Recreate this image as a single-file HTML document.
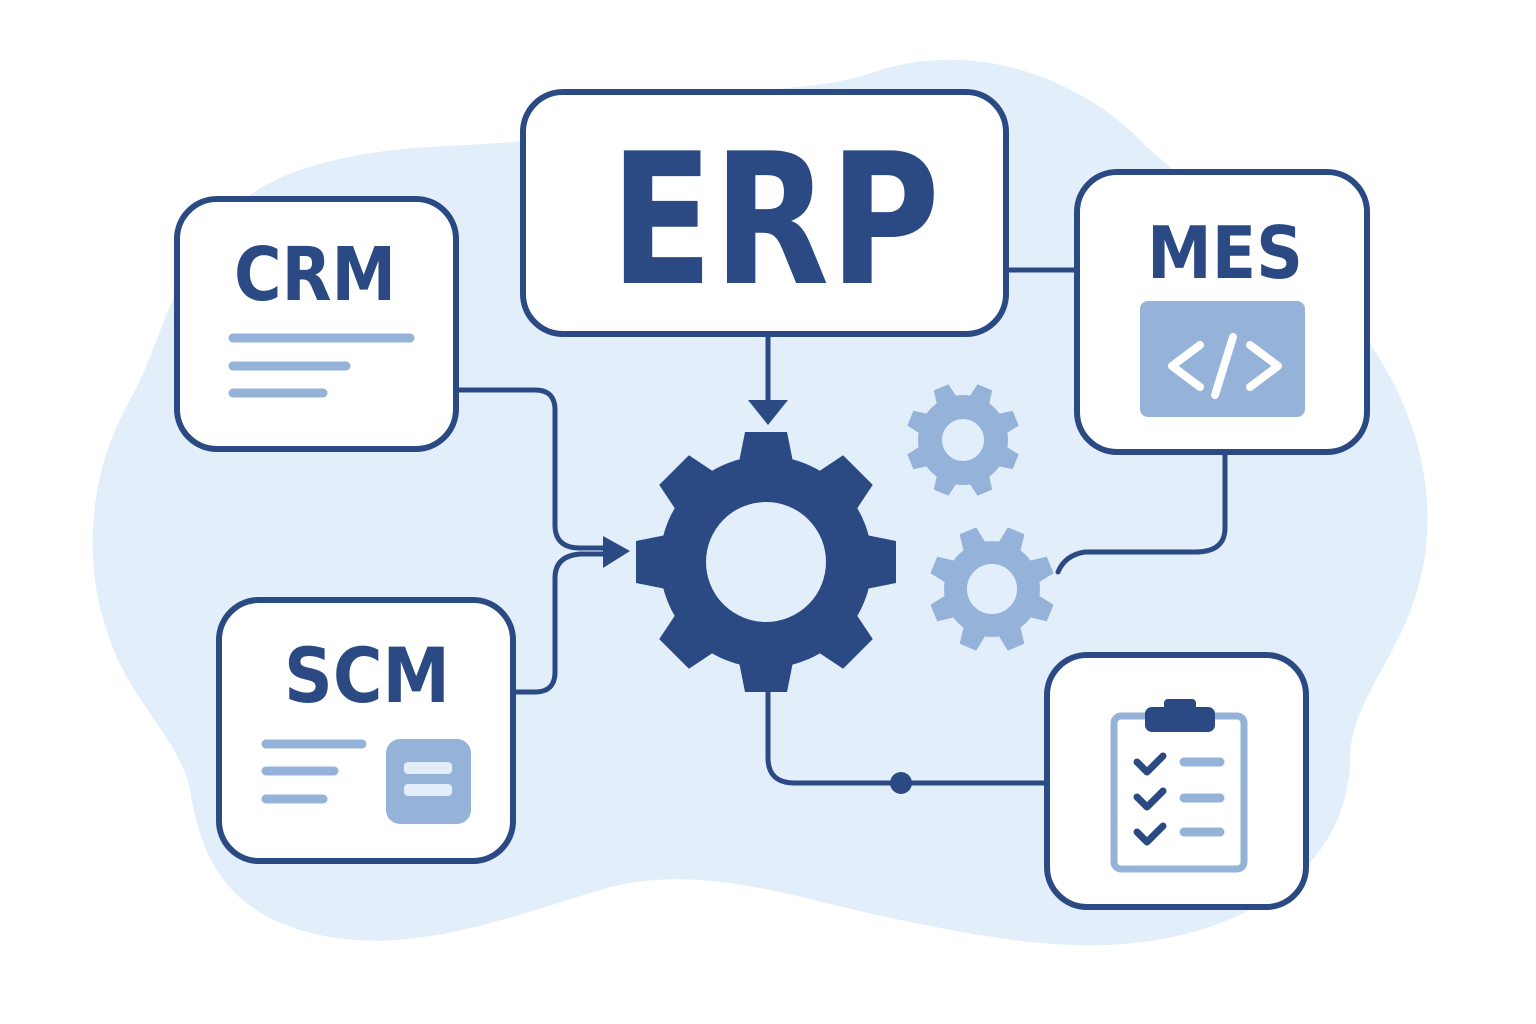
<!DOCTYPE html>
<html><head><meta charset="utf-8"><style>
html,body{margin:0;padding:0;background:#fff;width:1536px;height:1024px;overflow:hidden}
text{font-family:"DejaVu Sans","Liberation Sans",sans-serif;font-weight:bold;fill:#2b4a84}
</style></head><body>
<svg width="1536" height="1024" viewBox="0 0 1536 1024" xmlns="http://www.w3.org/2000/svg">
<defs>
<polygon id="tb" points="-28,-95 28,-95 21,-130 -21,-130" fill="#2b4a84"/>
<polygon id="t1" points="-11,-40 11,-40 8,-57 -8,-57" fill="#95b3d9"/>
<polygon id="t2" points="-12,-44 12,-44 9,-63 -9,-63" fill="#95b3d9"/>
</defs>
<path d="M300 170 C420 130 520 160 600 120 C700 80 800 100 880 70 C980 40 1080 80 1140 140 C1200 200 1300 250 1360 330 C1420 410 1440 500 1420 580 C1400 660 1350 700 1350 760 C1350 830 1300 900 1200 930 C1100 960 1000 940 900 920 C800 900 700 860 600 890 C500 920 400 960 300 930 C220 905 200 850 190 790 C180 740 130 700 110 640 C80 560 90 470 130 400 C170 330 180 210 300 170 Z" fill="#e3eefb"/>
<g fill="none" stroke="#2b4a84" stroke-width="5" stroke-linecap="round" stroke-linejoin="round">
<path d="M457 390 H535 Q555 390 555 410 V525 Q555 548 580 548 H606"/>
<path d="M514 692 H535 Q555 692 555 672 V578 Q555 556 580 554 H606"/>
<path d="M768 335 V402"/>
<path d="M1007 270 H1075"/>
<path d="M1225 453 V528 Q1225 552 1195 552 H1085 Q1065 555 1058 572"/>
<path d="M768 690 V758 Q768 783 795 783 H1045"/>
</g>
<polygon points="603,536 630,551 603,568" fill="#2b4a84"/>
<polygon points="748,400 788,400 768,425" fill="#2b4a84"/>
<circle cx="901" cy="783" r="11" fill="#2b4a84"/>
<!-- big gear -->
<circle cx="766" cy="562" r="83" fill="none" stroke="#2b4a84" stroke-width="46"/>
<g transform="translate(766 562)">
<use href="#tb"/><use href="#tb" transform="rotate(45)"/><use href="#tb" transform="rotate(90)"/><use href="#tb" transform="rotate(135)"/>
<use href="#tb" transform="rotate(180)"/><use href="#tb" transform="rotate(225)"/><use href="#tb" transform="rotate(270)"/><use href="#tb" transform="rotate(315)"/>
</g>
<!-- small gears -->
<circle cx="963" cy="440" r="33" fill="none" stroke="#95b3d9" stroke-width="24"/>
<g transform="translate(963 440) rotate(22.5)">
<use href="#t1"/><use href="#t1" transform="rotate(45)"/><use href="#t1" transform="rotate(90)"/><use href="#t1" transform="rotate(135)"/>
<use href="#t1" transform="rotate(180)"/><use href="#t1" transform="rotate(225)"/><use href="#t1" transform="rotate(270)"/><use href="#t1" transform="rotate(315)"/>
</g>
<circle cx="992" cy="589" r="36.5" fill="none" stroke="#95b3d9" stroke-width="23"/>
<g transform="translate(992 589) rotate(22.5)">
<use href="#t2"/><use href="#t2" transform="rotate(45)"/><use href="#t2" transform="rotate(90)"/><use href="#t2" transform="rotate(135)"/>
<use href="#t2" transform="rotate(180)"/><use href="#t2" transform="rotate(225)"/><use href="#t2" transform="rotate(270)"/><use href="#t2" transform="rotate(315)"/>
</g>
<!-- boxes -->
<g fill="#fff" stroke="#2b4a84" stroke-width="6">
<rect x="523" y="92" width="483" height="242" rx="40"/>
<rect x="177" y="199" width="279" height="250" rx="40"/>
<rect x="219" y="600" width="294" height="261" rx="40"/>
<rect x="1077" y="172" width="290" height="280" rx="40"/>
<rect x="1047" y="655" width="259" height="252" rx="40"/>
</g>
<text x="775" y="283" font-size="182" text-anchor="middle" textLength="330" lengthAdjust="spacingAndGlyphs">ERP</text>
<text x="315" y="300" font-size="74" text-anchor="middle" textLength="162" lengthAdjust="spacingAndGlyphs">CRM</text>
<text x="367" y="702" font-size="76" text-anchor="middle" textLength="166" lengthAdjust="spacingAndGlyphs">SCM</text>
<text x="1225" y="278" font-size="72" text-anchor="middle" textLength="156" lengthAdjust="spacingAndGlyphs">MES</text>
<g stroke="#95b3d9" stroke-width="9" stroke-linecap="round">
<line x1="233" y1="338" x2="410" y2="338"/><line x1="233" y1="366" x2="346" y2="366"/><line x1="233" y1="393" x2="323" y2="393"/>
<line x1="266" y1="744" x2="362" y2="744"/><line x1="266" y1="771" x2="334" y2="771"/><line x1="266" y1="799" x2="323" y2="799"/>
</g>
<rect x="386" y="739" width="85" height="85" rx="14" fill="#95b3d9"/>
<rect x="404" y="762" width="48" height="12" rx="4" fill="#e3eefb"/>
<rect x="404" y="784" width="48" height="12" rx="4" fill="#e3eefb"/>
<rect x="1140" y="301" width="165" height="116" rx="8" fill="#95b3d9"/>
<g fill="none" stroke="#fff" stroke-width="8" stroke-linecap="round" stroke-linejoin="round">
<polyline points="1200,345 1172,366 1200,387"/><polyline points="1250,345 1278,366 1250,387"/><line x1="1233" y1="337" x2="1215" y2="395"/>
</g>
<!-- clipboard -->
<rect x="1114" y="716" width="130" height="153" rx="7" fill="none" stroke="#95b3d9" stroke-width="7"/>
<rect x="1145" y="707" width="70" height="25" rx="7" fill="#2b4a84"/>
<rect x="1164" y="699" width="32" height="12" rx="4" fill="#2b4a84"/>
<g fill="none" stroke="#2b4a84" stroke-width="7" stroke-linecap="round" stroke-linejoin="round">
<polyline points="1137,762 1147,772 1163,756"/><polyline points="1137,797 1147,807 1163,791"/><polyline points="1137,832 1147,842 1163,826"/>
</g>
<g stroke="#95b3d9" stroke-width="9" stroke-linecap="round">
<line x1="1184" y1="762" x2="1220" y2="762"/><line x1="1184" y1="798" x2="1220" y2="798"/><line x1="1184" y1="832" x2="1220" y2="832"/>
</g>
</svg>
</body></html>
